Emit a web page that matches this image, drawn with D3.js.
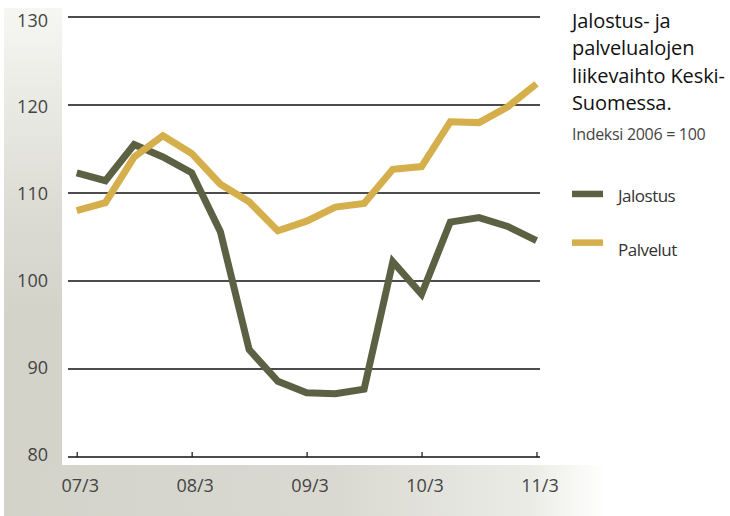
<html>
<head>
<meta charset="utf-8">
<style>
  body { margin: 0; background: #fff; }
  text { font-family: "Open Sans", "Noto Sans", sans-serif; }
</style>
</head>
<body>
<script src="https://d3js.org/d3.v7.min.js"></script>
<script>
// quarterly index values, 2006 = 100
var quarters = ["07/3","07/4","08/1","08/2","08/3","08/4","09/1","09/2","09/3","09/4","10/1","10/2","10/3","10/4","11/1","11/2","11/3"]
var jalostus = [112.3,111.4,115.5,114.1,112.3,105.6,92.2,88.6,87.3,87.2,87.7,102.2,98.5,106.7,107.2,106.2,104.6]
var palvelut = [108.0,108.9,114.1,116.5,114.5,111.0,109.0,105.7,106.8,108.4,108.8,112.7,113.0,118.1,118.0,119.8,122.4]
var yTicks = [80,90,100,110,120,130]
var xTickLabels = ["07/3","08/3","09/3","10/3","11/3"]
var titleLines = ["Jalostus- ja","palvelualojen","liikevaihto Keski-","Suomessa."]
var subtitle = "Indeksi 2006 = 100"
var seriesNames = ["Jalostus","Palvelut"]
var colors = ["#5c6143","#d5af4b"]

var width = 730, height = 516
var svg = d3.select('body').append('svg')
    .attr('width', width)
    .attr('height', height)

var defs = svg.append('defs')
var vg = defs.append('linearGradient').attr('id','vg')
    .attr('x1',0).attr('y1',0).attr('x2',0).attr('y2',1)
vg.append('stop').attr('offset','0%').attr('stop-color','#f6f6f3')
vg.append('stop').attr('offset','40%').attr('stop-color','#dcdcd4')
vg.append('stop').attr('offset','60%').attr('stop-color','#d3d3ca')
vg.append('stop').attr('offset','100%').attr('stop-color','#d3d3ca')
var hg = defs.append('linearGradient').attr('id','hg')
    .attr('x1',0).attr('y1',0).attr('x2',1).attr('y2',0)
hg.append('stop').attr('offset','0%').attr('stop-color','#d3d3ca')
hg.append('stop').attr('offset','55%').attr('stop-color','#d9d9d1')
hg.append('stop').attr('offset','88%').attr('stop-color','#ecece7')
hg.append('stop').attr('offset','100%').attr('stop-color','#ffffff')

// background panels
svg.append('rect').attr('x',4).attr('y',8).attr('width',58).attr('height',height-8)
    .attr('fill','url(#vg)')
svg.append('rect').attr('x',4).attr('y',465).attr('width',601).attr('height',height-465)
    .attr('fill','url(#hg)')

var x = d3.scalePoint().domain(quarters).range([76.7, 536.5])
var y = d3.scaleLinear().domain([80,130]).range([457, 17])
// labels sit a little tighter than the gridlines
var yLab = d3.scaleLinear().domain([80,130]).range([460.5, 26.5])

// gridlines
svg.append('g').selectAll('line')
    .data(yTicks.slice(1))
    .enter().append('line')
    .attr('x1',68).attr('x2',540)
    .attr('y1',function(d){ return y(d) })
    .attr('y2',function(d){ return y(d) })
    .attr('stroke','#111').attr('stroke-width',1.3)

// y labels
svg.append('g').selectAll('text')
    .data(yTicks)
    .enter().append('text')
    .attr('x',48).attr('y',function(d){ return yLab(d) })
    .attr('text-anchor','end')
    .attr('font-size',18).attr('fill','#444')
    .text(function(d){ return d })

// x axis
var xAxis = d3.axisBottom(x)
    .tickValues(xTickLabels)
    .tickSize(-5)
    .tickPadding(22)
    .tickSizeOuter(0)
var ax = svg.append('g').attr('transform','translate(0,' + y(80) + ')').call(xAxis)
ax.select('.domain').attr('d','M68,0H540').attr('stroke','#111').attr('stroke-width',1.3)
ax.selectAll('.tick line').attr('stroke','#111').attr('stroke-width',1.2)
ax.selectAll('.tick text').attr('font-size',18).attr('fill','#444')
    .attr('font-family','"Open Sans", "Noto Sans", sans-serif').attr('dx',3)

// lines
var line = d3.line()
    .x(function(d,i){ return x(quarters[i]) })
    .y(function(d){ return y(d) })
svg.append('path').datum(jalostus)
    .attr('d',line).attr('fill','none')
    .attr('stroke',colors[0]).attr('stroke-width',7).attr('stroke-linejoin','miter')
svg.append('path').datum(palvelut)
    .attr('d',line).attr('fill','none')
    .attr('stroke',colors[1]).attr('stroke-width',7).attr('stroke-linejoin','miter')

// title
svg.append('g').selectAll('text')
    .data(titleLines)
    .enter().append('text')
    .attr('x',572).attr('y',function(d,i){ return 28 + i*27.3 })
    .attr('font-size',20).attr('fill','#111')
    .attr('letter-spacing',-0.1)
    .text(function(d){ return d })
svg.append('text').attr('x',572).attr('y',140)
    .attr('font-size',16).attr('fill','#444')
    .attr('letter-spacing',-0.3)
    .text(subtitle)

// legend
var legTextDy = [7.7, 13.3]
var leg = svg.append('g').selectAll('g')
    .data(seriesNames)
    .enter().append('g')
    .attr('transform',function(d,i){ return 'translate(572,' + (194 + i*48.7) + ')' })
leg.append('rect').attr('x',0).attr('y',-3.3).attr('width',31).attr('height',6.5)
    .attr('fill',function(d,i){ return colors[i] })
leg.append('text').attr('x',46).attr('y',function(d,i){ return legTextDy[i] })
    .attr('font-size',17).attr('fill','#333')
    .attr('letter-spacing',-0.5)
    .text(function(d){ return d })
</script>
</body>
</html>
